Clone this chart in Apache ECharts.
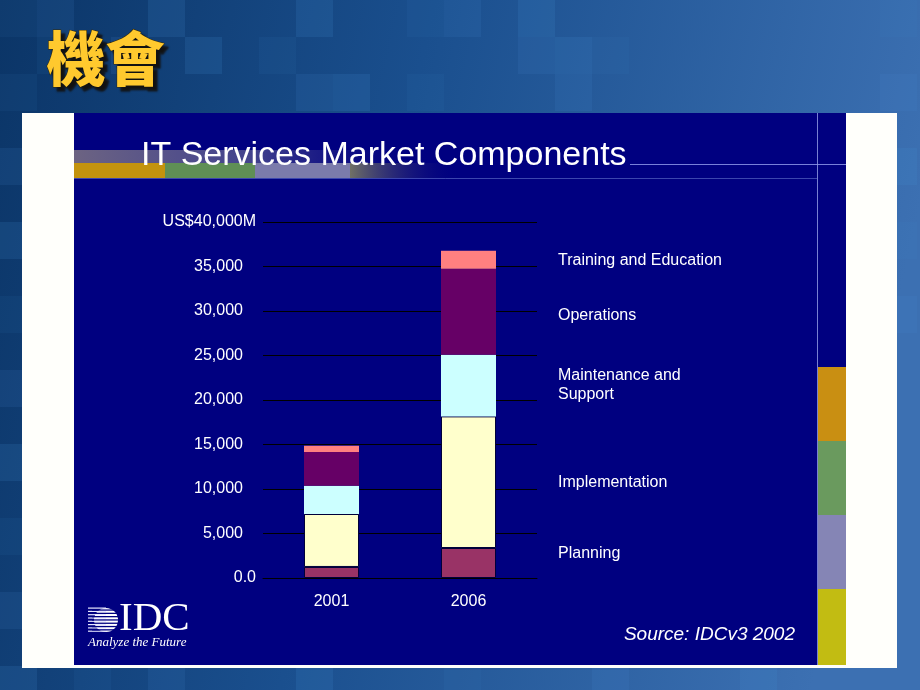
<!DOCTYPE html>
<html><head><meta charset="utf-8">
<script src="https://cdn.jsdelivr.net/npm/echarts@6/dist/echarts.min.js"></script>
<style>html,body{margin:0;padding:0;background:#1a4a85}#c{width:920px;height:690px}</style>
</head><body><div id="c"></div>
<script>
var categories = ['2001', '2006'];
var seriesNames = ['Planning', 'Implementation', 'Maintenance and Support', 'Operations', 'Training and Education'];
var labelTexts = ['Planning', 'Implementation', 'Maintenance and\nSupport', 'Operations', 'Training and Education'];
var planning = [1240, 3370];
var implementation = [5950, 14790];
var maintenance = [3180, 6930];
var operations = [3790, 9660];
var training = [710, 2030];
var yTicks = [0, 5000, 10000, 15000, 20000, 25000, 30000, 35000, 40000];

var values = [planning, implementation, maintenance, operations, training];
var colors = ['#993366', '#FFFFCC', '#CCFFFF', '#660066', '#FF8080'];
var borders = [1, 1, 0, 0, 0];
var labelOffsets = [[0, -9], [0, 0], [0, 0], [0, 4], [0, 1]];

var chart = echarts.init(document.getElementById('c'), null, {renderer: 'canvas'});

var series = seriesNames.map(function (name, i) {
  return {
    name: name,
    type: 'bar',
    stack: 'total',
    barWidth: 55,
    data: values[i],
    itemStyle: {color: colors[i], borderColor: '#00003a', borderWidth: borders[i]},
    label: {
      show: true,
      position: 'right',
      distance: 62,
      offset: labelOffsets[i],
      color: '#ffffff',
      fontSize: 16,
      fontFamily: 'Liberation Sans, Arial, sans-serif',
      lineHeight: 19,
      formatter: function (p) { return p.dataIndex === 1 ? labelTexts[i] : ''; }
    }
  };
});

// background decoration
var g = [];
g.push({type: 'rect', z: -100, shape: {x: 0, y: 0, width: 920, height: 690},
  style: {fill: new echarts.graphic.LinearGradient(0, 0, 1, 0.3, [
    {offset: 0, color: '#0b3567'}, {offset: 0.45, color: '#1a4f8e'}, {offset: 1, color: '#3c70b2'}])}});
var sq = [[0,0],[37,0],[148,0],[407,0],[444,0],[518,0],[37,37],[111,37],[185,37],[259,37],[518,37],[555,37],[592,37],[296,74],[333,74],[407,74],[555,74],[296,0],[0,74],[0,148],[0,222],[0,296],[0,370],[0,444],[0,518],[0,592],[0,666],[74,666],[148,666],[296,666],[444,666],[592,666],[740,666],[880,0],[880,74],[880,148],[880,222],[880,296]];
sq.forEach(function (s, k) {
  g.push({type: 'rect', z: -99, shape: {x: s[0], y: s[1], width: 37, height: 37},
    style: {fill: 'rgba(70,140,210,' + (0.08 + (k % 3) * 0.04) + ')'}});
});
g.push({type: 'rect', z: -98, shape: {x: 22, y: 113, width: 875, height: 555}, style: {fill: '#fffffb'}});
g.push({type: 'rect', z: -97, shape: {x: 74, y: 113, width: 772, height: 552}, style: {fill: '#000080'}});
// title band
g.push({type: 'rect', z: -96, shape: {x: 74, y: 150, width: 360, height: 13},
  style: {fill: new echarts.graphic.LinearGradient(0, 0, 1, 0, [
    {offset: 0, color: 'rgba(120,110,130,0.9)'}, {offset: 0.5, color: 'rgba(110,110,150,0.6)'}, {offset: 1, color: 'rgba(0,0,128,0)'}])}});
g.push({type: 'rect', z: -96, shape: {x: 74, y: 163, width: 91, height: 15}, style: {fill: '#c3930e'}});
g.push({type: 'rect', z: -96, shape: {x: 165, y: 163, width: 90, height: 15}, style: {fill: '#5f8f55'}});
g.push({type: 'rect', z: -96, shape: {x: 255, y: 163, width: 95, height: 15}, style: {fill: '#7b7bab'}});
g.push({type: 'rect', z: -96, shape: {x: 350, y: 163, width: 110, height: 15},
  style: {fill: new echarts.graphic.LinearGradient(0, 0, 1, 0, [
    {offset: 0, color: 'rgba(160,160,90,0.7)'}, {offset: 1, color: 'rgba(0,0,128,0)'}])}});
g.push({type: 'line', z: -95, shape: {x1: 74, y1: 178.5, x2: 817, y2: 178.5}, style: {stroke: 'rgba(120,140,220,0.5)', lineWidth: 1}});
g.push({type: 'line', z: -95, shape: {x1: 630, y1: 164.5, x2: 846, y2: 164.5}, style: {stroke: 'rgba(150,160,240,0.8)', lineWidth: 1}});
// right strip
g.push({type: 'rect', z: -95, shape: {x: 818, y: 367, width: 28, height: 74}, style: {fill: '#c98f12'}});
g.push({type: 'rect', z: -95, shape: {x: 818, y: 441, width: 28, height: 74}, style: {fill: '#6a9a5e'}});
g.push({type: 'rect', z: -95, shape: {x: 818, y: 515, width: 28, height: 74}, style: {fill: '#8585b5'}});
g.push({type: 'rect', z: -95, shape: {x: 818, y: 589, width: 28, height: 76}, style: {fill: '#c2bc12'}});
g.push({type: 'line', z: -94, shape: {x1: 817.5, y1: 113, x2: 817.5, y2: 665}, style: {stroke: 'rgba(150,160,230,0.8)', lineWidth: 1}});
// headings
g.push({type: 'text', z: 10, left: 46, top: 29, style: {text: '機會', fill: '#FFC92E',
  font: '900 59px "Noto Sans CJK TC", sans-serif', stroke: '#3a2a00', lineWidth: 1,
  textShadowColor: '#111111', textShadowOffsetX: 4, textShadowOffsetY: 4, textShadowBlur: 2}});
g.push({type: 'text', z: 10, left: 141, top: 139, style: {text: 'IT Services Market Components', fill: '#ffffff',
  font: '34px "Liberation Sans", Arial, sans-serif'}});
g.push({type: 'text', z: 10, right: 920 - 795, top: 625, style: {text: 'Source: IDCv3 2002', fill: '#ffffff',
  font: 'italic 19px "Liberation Sans", Arial, sans-serif'}});
// IDC logo
g.push({type: 'circle', z: 9, shape: {cx: 106, cy: 620, r: 12}, style: {fill: '#ffffff'}});
for (var k = 0; k < 8; k++) {
  g.push({type: 'rect', z: 9, shape: {x: 88, y: 607.5 + k * 3.3, width: 18, height: 1.2}, style: {fill: '#e8e8ff'}});
  g.push({type: 'rect', z: 10, shape: {x: 92, y: 609.4 + k * 3.3, width: 28, height: 1.3}, style: {fill: '#000080'}});
}
g.push({type: 'text', z: 10, left: 119, top: 599, style: {text: 'IDC', fill: '#ffffff',
  font: '41px "Liberation Serif", "Times New Roman", serif'}});
g.push({type: 'text', z: 10, left: 88, top: 636, style: {text: 'Analyze the Future', fill: '#ffffff',
  font: 'italic 13px "Liberation Serif", "Times New Roman", serif'}});

chart.setOption({
  animation: false,
  graphic: g,
  grid: {left: 263, right: 383, top: 222, bottom: 112, containLabel: false},
  xAxis: {
    type: 'category', data: categories,
    axisLine: {show: true, lineStyle: {color: '#000000', width: 1}},
    axisTick: {show: false},
    axisLabel: {color: '#ffffff', fontSize: 16, margin: 16, fontFamily: 'Liberation Sans, Arial, sans-serif'}
  },
  yAxis: {
    type: 'value', min: 0, max: 40000, interval: 5000,
    axisLine: {show: false}, axisTick: {show: false},
    splitLine: {show: true, lineStyle: {color: '#000000', width: 1}},
    axisLabel: {
      color: '#ffffff', fontSize: 16, margin: 7, fontFamily: 'Liberation Sans, Arial, sans-serif',
      formatter: function (v) {
        if (v === 0) return '{e|0.0}';
        if (v === 40000) return '{e|US$40,000M}';
        return '{n|' + v.toLocaleString('en-US') + '}';
      },
      rich: {
        e: {color: '#ffffff', fontSize: 16, fontFamily: 'Liberation Sans, Arial, sans-serif'},
        n: {color: '#ffffff', fontSize: 16, fontFamily: 'Liberation Sans, Arial, sans-serif', padding: [0, 13, 0, 0]}
      }
    }
  },
  series: series
});
</script></body></html>
